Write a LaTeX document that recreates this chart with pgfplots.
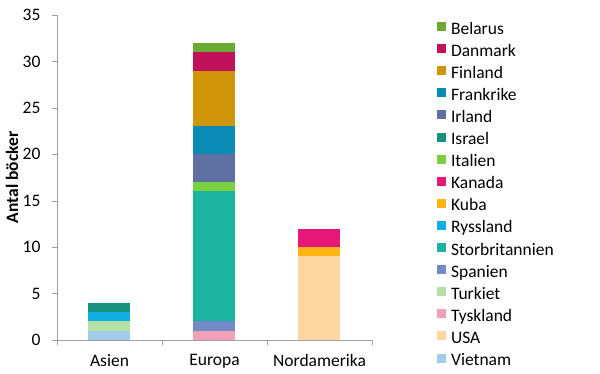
\documentclass[border=0pt]{standalone}
\usepackage{pgfplots}
\pgfplotsset{compat=1.18}
\usepackage{pgfplotstable}
\usepackage{fontspec}
\setmainfont{Carlito}
\definecolor{cBelarus}{HTML}{6AAA33}
\definecolor{cDanmark}{HTML}{C0125B}
\definecolor{cFinland}{HTML}{D09508}
\definecolor{cFrankrike}{HTML}{0A8BB5}
\definecolor{cIrland}{HTML}{5F70A3}
\definecolor{cIsrael}{HTML}{1A9080}
\definecolor{cItalien}{HTML}{7AD142}
\definecolor{cKanada}{HTML}{E5187A}
\definecolor{cKuba}{HTML}{FCB515}
\definecolor{cRyssland}{HTML}{10AEE0}
\definecolor{cStorbritannien}{HTML}{1BB39D}
\definecolor{cSpanien}{HTML}{7389C8}
\definecolor{cTurkiet}{HTML}{B5E0A7}
\definecolor{cTyskland}{HTML}{F2A1B9}
\definecolor{cUSA}{HTML}{FDD6A0}
\definecolor{cVietnam}{HTML}{A1CDE9}
\definecolor{axgray}{HTML}{A0A0A0}
\pgfplotstableread{
x Vietnam USA Tyskland Turkiet Spanien Storbritannien Ryssland Kuba Kanada Italien Israel Irland Frankrike Finland Danmark Belarus
0 1 0 0 1 0 0 1 0 0 0 1 0 0 0 0 0
1 0 0 1 0 1 14 0 0 0 1 0 3 3 6 2 1
2 0 9 0 0 0 0 0 1 2 0 0 0 0 0 0 0
}\data
\begin{document}
\begin{tikzpicture}
\useasboundingbox (0,0) rectangle (600pt,374pt);
\begin{axis}[
  at={(57pt,34pt)}, anchor=south west,
  scale only axis, width=315pt, height=325pt,
  ybar stacked, bar width=42pt,
  xmin=-0.5, xmax=2.5, ymin=0, ymax=35,
  axis x line=bottom, axis y line=left,
  axis line style={axgray, -},
  xtick={0,1,2}, xticklabels={Asien,Europa,Nordamerika},
  major x tick style={draw=none},
  minor xtick={-0.5,0.5,1.5,2.5},
  minor x tick style={axgray},
  minor tick length=5pt,
  ytick={0,5,...,35},
  major tick length=5pt,
  y tick style={axgray},
  tick align=outside,
  /pgf/number format/assume math mode=true,
  tick label style={font=\fontsize{17.5}{20}\selectfont},
  yticklabel style={xshift=-8pt},
  xticklabel style={yshift=-6pt},
  ylabel={\textbf{Antal böcker}},
  every axis y label/.style={at={(axis description cs:-0.143,0.5)}, rotate=90, anchor=center, font=\fontsize{17.5}{20}\selectfont},
  reverse legend,
  legend style={at={(1.206,0.979)}, anchor=north west, draw=none, fill=none,
    font=\fontsize{17.5}{20}\selectfont, row sep=6.1pt, inner sep=0pt,
    nodes={inner sep=0pt, text height=12pt, text depth=4pt}},
  legend cell align=left,
  legend image code/.code={\fill[#1] (0pt,-1pt) rectangle (9pt,8pt); \path (14pt,0pt);},
]
\addplot[fill=cVietnam, draw=none] table[x=x,y=Vietnam]{\data};
\addplot[fill=cUSA, draw=none] table[x=x,y=USA]{\data};
\addplot[fill=cTyskland, draw=none] table[x=x,y=Tyskland]{\data};
\addplot[fill=cTurkiet, draw=none] table[x=x,y=Turkiet]{\data};
\addplot[fill=cSpanien, draw=none] table[x=x,y=Spanien]{\data};
\addplot[fill=cStorbritannien, draw=none] table[x=x,y=Storbritannien]{\data};
\addplot[fill=cRyssland, draw=none] table[x=x,y=Ryssland]{\data};
\addplot[fill=cKuba, draw=none] table[x=x,y=Kuba]{\data};
\addplot[fill=cKanada, draw=none] table[x=x,y=Kanada]{\data};
\addplot[fill=cItalien, draw=none] table[x=x,y=Italien]{\data};
\addplot[fill=cIsrael, draw=none] table[x=x,y=Israel]{\data};
\addplot[fill=cIrland, draw=none] table[x=x,y=Irland]{\data};
\addplot[fill=cFrankrike, draw=none] table[x=x,y=Frankrike]{\data};
\addplot[fill=cFinland, draw=none] table[x=x,y=Finland]{\data};
\addplot[fill=cDanmark, draw=none] table[x=x,y=Danmark]{\data};
\addplot[fill=cBelarus, draw=none] table[x=x,y=Belarus]{\data};
\legend{Vietnam,USA,Tyskland,Turkiet,Spanien,Storbritannien,Ryssland,Kuba,Kanada,Italien,Israel,Irland,Frankrike,Finland,Danmark,Belarus}
\end{axis}
\end{tikzpicture}
\end{document}
